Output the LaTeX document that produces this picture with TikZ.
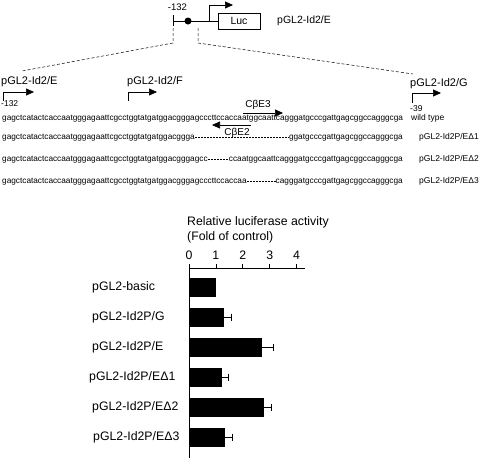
\documentclass[tikz,border=0pt]{standalone}
\usepackage{fontspec}
\setmainfont{Liberation Sans}
\usetikzlibrary{arrows.meta}
\begin{document}
\begin{tikzpicture}[x=1pt,y=-1pt,
  seq/.style={inner sep=0pt, font=\fontsize{8.25}{9}\selectfont, text height=6pt, text depth=1.7pt},
  lab/.style={inner sep=0pt, font=\fontsize{11}{13}\selectfont},
  small/.style={inner sep=0pt, font=\fontsize{8.5}{10}\selectfont},
  chart/.style={inner sep=0pt, font=\fontsize{12.3}{14}\selectfont},
  prom/.style={line width=0.7pt, -{Triangle[length=8pt,width=7pt]}},
  gapline/.style={line width=0.5pt, dash pattern=on 2pt off 1pt},
  guide/.style={line width=0.5pt, dash pattern=on 3pt off 2pt},
  bar/.style={fill=black},
  err/.style={line width=0.7pt},
  axis/.style={line width=0.7pt},
]
\useasboundingbox (0,0) rectangle (480,458);

% ---------- top construct ----------
\node[inner sep=0pt, font=\fontsize{9.5}{11}\selectfont] (m132top) at (177.5,7.5) {-132};
\coordinate (tickT) at (173,15);
\coordinate (tickB) at (173,26);
\draw[axis] (tickT) -- (tickB);
\node[draw, line width=0.7pt, minimum width=42pt, minimum height=16pt, inner sep=0pt,
      font=\fontsize{10.5}{12}\selectfont] (luc) at (239,21) {Luc};
\coordinate (lstart) at (173,21);
\draw[axis] (lstart) -- (luc.west);
\node[circle, fill=black, minimum size=7pt, inner sep=0pt] (dot) at (188,21) {};
\coordinate (tss) at (209,21);
\draw[prom] (tss) -- (209,5) -- (233,5);
\node[anchor=west, inner sep=0pt, font=\fontsize{10.5}{12}\selectfont] (toplab) at (277,21) {pGL2-Id2/E};

% guide lines
\coordinate (gl0) at (173,28);
\coordinate (gl1) at (173,43);
\coordinate (gl2) at (22,71);
\coordinate (gr0) at (198,28);
\coordinate (gr1) at (198,43);
\coordinate (gr2) at (413,74);
\draw[guide] (gl0) -- (gl1) -- (gl2);
\draw[guide] (gr0) -- (gr1) -- (gr2);

% ---------- promoter fragment labels ----------
\node[lab, anchor=west] (labE) at (1,82) {pGL2-Id2/E};
\node[lab, anchor=west] (labF) at (127,82) {pGL2-Id2/F};
\node[lab, anchor=west] (labG) at (410,84) {pGL2-Id2/G};
\draw[prom] (3,101) -- (3,92) -- (34,92);
\draw[prom] (128,101) -- (128,92) -- (157,92);
\draw[prom] (412,103) -- (412,93) -- (441,93);
\node[small, anchor=west] (m132) at (1,104) {-132};
\node[small, anchor=west] (m39) at (410,109) {-39};

% C/EBP sites
\node[inner sep=0pt, font=\fontsize{10}{12}\selectfont] (ce3) at (258,105) {CβE3};
\coordinate (ce3a) at (243,113);
\coordinate (ce3b) at (283,113);
\draw[prom] (ce3a) -- (ce3b);
\coordinate (ce2a) at (251,125);
\coordinate (ce2b) at (212,125);
\draw[prom] (ce2a) -- (ce2b);
\node[inner sep=0pt, font=\fontsize{10}{12}\selectfont] (ce2) at (237,133) {CβE2};

% ---------- sequences ----------
\node[seq, anchor=west] (wt) at (2,118) {gagctcatactcaccaatgggagaattcgcctggtatgatggacgggagcccttccaccaatggcaattcagggatgcccgattgagcggccagggcga};
\node[small, anchor=west] (wtl) at (411,118) {wild type};

\node[seq, anchor=west] (d1a) at (2,137) {gagctcatactcaccaatgggagaattcgcctggtatgatggacggga};
\node[seq, anchor=east] (d1b) at (403,137) {ggatgcccgattgagcggccagggcga};
\draw[gapline] (d1a.east) -- (d1b.west);
\node[small, anchor=west] (d1l) at (419,137) {pGL2-Id2P/EΔ1};

\node[seq, anchor=west] (d2a) at (2,159) {gagctcatactcaccaatgggagaattcgcctggtatgatggacgggagcc};
\node[seq, anchor=east] (d2b) at (403,159) {ccaatggcaattcagggatgcccgattgagcggccagggcga};
\draw[gapline] (d2a.east) -- (d2b.west);
\node[small, anchor=west] (d2l) at (419,159) {pGL2-Id2P/EΔ2};

\node[seq, anchor=west] (d3a) at (2,181) {gagctcatactcaccaatgggagaattcgcctggtatgatggacgggagcccttccaccaa};
\node[seq, anchor=east] (d3b) at (403,181) {cagggatgcccgattgagcggccagggcga};
\draw[gapline] (d3a.east) -- (d3b.west);
\node[small, anchor=west] (d3l) at (419,181) {pGL2-Id2P/EΔ3};

% ---------- bar chart ----------
\node[chart, anchor=west] (ttl1) at (187,222) {Relative luciferase activity};
\node[chart, anchor=west] (ttl2) at (187,237.5) {(Fold of control)};
\coordinate (o) at (189,268);
\coordinate (xend) at (305,268);
\coordinate (ybot) at (189,458);
\draw[axis] (xend) -- (o) -- (ybot);
\foreach \k in {0,1,2,3,4} {
  \draw[axis] (189+26.9*\k,268) -- (189+26.9*\k,264);
  \node[chart] (t\k) at (189+26.9*\k,255) {\k};
}

% control bar (no error bar)
\node[chart, anchor=west] (b0l) at (92,287) {pGL2-basic};
\fill[bar] (189,277.5) rectangle (216,296.5);

% bars: name / label / centre y / bar end / error end / label x
\foreach \nm/\lab/\yc/\xb/\xe/\lx in {
   b1/{pGL2-Id2P/G}/317/224/231/92,
   b2/{pGL2-Id2P/E}/347/262/273/92,
   b3/{pGL2-Id2P/EΔ1}/377/222/228/89,
   b4/{pGL2-Id2P/EΔ2}/407/264/271/92,
   b5/{pGL2-Id2P/EΔ3}/437/225/232/93} {
  \node[chart, anchor=west] (\nm l) at (\lx,\yc) {\lab};
  \fill[bar] (189,\yc-9.5) rectangle (\xb,\yc+9.5);
  \draw[err] (\xb,\yc) -- (\xe,\yc);
  \draw[err] (\xe,\yc-3.5) -- (\xe,\yc+3.5);
}
\end{tikzpicture}
\end{document}
